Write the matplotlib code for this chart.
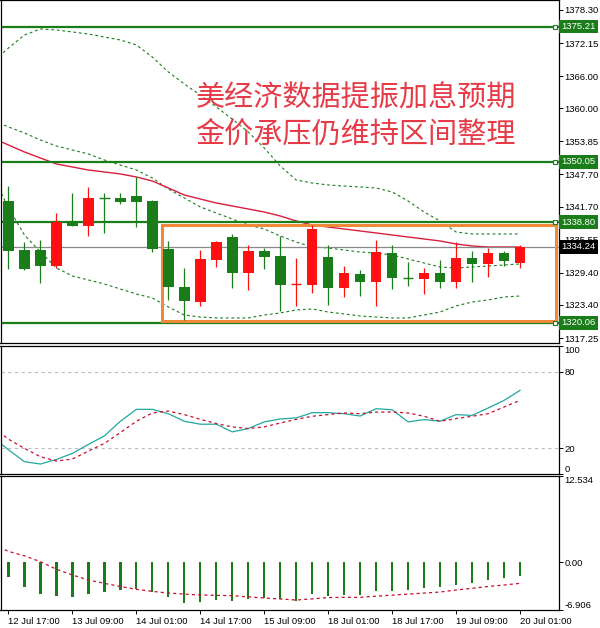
import matplotlib
matplotlib.use("Agg")
import matplotlib.pyplot as plt
from matplotlib.patches import Rectangle
import numpy as np

plt.rcParams['font.family'] = ['Liberation Sans', 'DejaVu Sans']

# H4 gold candles
opens = [1342.75, 1333.63, 1333.63, 1330.71, 1338.90, 1338.16, 1343.30, 1343.25, 1343.63, 1342.75,
         1333.82, 1326.69, 1324.01, 1331.77, 1335.99, 1329.30, 1333.45, 1332.52, 1327.28, 1327.12,
         1332.27, 1326.62, 1329.17, 1327.73, 1333.02, 1328.50, 1328.24, 1329.30, 1327.73, 1332.09,
         1331.03, 1333.13, 1331.27]
highs = [1345.54, 1335.18, 1335.49, 1340.46, 1344.30, 1345.41, 1344.19, 1344.19, 1347.28, 1342.94,
         1335.36, 1330.23, 1333.63, 1335.31, 1336.61, 1334.56, 1334.06, 1336.24, 1332.09, 1338.28,
         1334.56, 1330.65, 1329.91, 1335.49, 1334.56, 1331.46, 1330.23, 1331.77, 1335.06, 1333.45,
         1334.06, 1333.50, 1334.56]
lows = [1330.15, 1330.00, 1327.43, 1330.23, 1338.10, 1336.29, 1336.74, 1342.19, 1337.97, 1333.32,
        1324.33, 1320.60, 1323.27, 1330.52, 1326.62, 1326.19, 1330.10, 1322.34, 1323.27, 1325.57,
        1323.40, 1324.94, 1325.07, 1323.27, 1326.32, 1326.93, 1325.39, 1326.62, 1326.62, 1327.73,
        1328.66, 1330.65, 1330.34]
closes = [1333.50, 1330.04, 1330.71, 1338.79, 1338.16, 1343.25, 1343.22, 1342.51, 1342.62, 1333.82,
          1326.80, 1324.20, 1331.96, 1335.12, 1329.30, 1333.45, 1332.39, 1327.12, 1327.33, 1337.54,
          1326.62, 1329.41, 1327.73, 1333.21, 1328.48, 1328.45, 1329.30, 1327.73, 1332.09, 1331.03,
          1333.13, 1331.64, 1334.24]

# indicator lines start one bar before the first visible candle
ma_line = [1354.48, 1353.17, 1351.87, 1350.75, 1349.64, 1349.08, 1348.52, 1348.15, 1347.78, 1347.22,
           1346.47, 1345.17, 1343.87, 1343.12, 1342.38, 1341.82, 1341.26, 1340.70, 1339.96, 1339.03,
           1338.28, 1337.91, 1337.54, 1337.17, 1336.80, 1336.42, 1336.05, 1335.68, 1335.31, 1334.75,
           1334.38, 1334.19, 1334.19, 1334.19]
bb_upper = [1368.62, 1371.23, 1373.65, 1374.76, 1374.58, 1374.21, 1373.83, 1373.27, 1372.72, 1371.79,
            1369.55, 1366.76, 1364.53, 1362.48, 1360.25, 1358.01, 1355.59, 1352.62, 1349.27, 1346.66,
            1346.10, 1345.73, 1345.54, 1345.36, 1345.17, 1344.43, 1342.75, 1340.70, 1339.03, 1336.98,
            1336.61, 1336.61, 1336.61, 1336.61]
bb_mid = [1357.83, 1356.52, 1355.41, 1354.10, 1352.99, 1352.24, 1351.50, 1350.38, 1349.45, 1348.52,
          1347.03, 1344.99, 1343.31, 1341.64, 1340.52, 1339.40, 1338.28, 1337.54, 1336.24, 1335.12,
          1334.19, 1334.00, 1333.63, 1333.26, 1333.07, 1332.70, 1331.96, 1331.21, 1330.47, 1330.28,
          1330.47, 1330.65, 1330.84, 1331.03]
bb_lower = [1347.59, 1341.45, 1336.42, 1333.26, 1330.28, 1328.79, 1328.05, 1327.30, 1326.37, 1325.44,
            1324.70, 1323.02, 1321.53, 1321.16, 1320.98, 1320.98, 1320.98, 1321.53, 1321.91, 1322.47,
            1322.65, 1322.09, 1321.72, 1321.35, 1321.16, 1320.98, 1320.98, 1321.53, 1322.09, 1323.21,
            1323.95, 1324.33, 1324.88, 1325.07]

stoch_k = [29.0, 18.9, 9.6, 7.8, 11.4, 16.1, 23.1, 29.8, 41.2, 50.5, 50.5, 47.1, 41.2, 38.9, 38.9,
           32.9, 35.5, 40.7, 43.0, 43.8, 47.9, 47.9, 47.1, 45.3, 51.0, 50.2, 40.7, 42.5, 41.2, 46.4,
           45.8, 51.5, 57.5, 65.3]
stoch_d = [36.8, 27.2, 20.0, 13.5, 10.1, 11.7, 17.9, 23.9, 32.4, 41.2, 47.7, 49.2, 46.4, 42.7, 39.4,
           36.8, 35.5, 36.8, 39.8, 42.7, 45.1, 46.4, 47.7, 47.1, 48.4, 48.4, 47.7, 45.1, 41.2, 43.3,
           45.1, 47.1, 52.3, 57.5]

macd_hist = [-2.07, -3.62, -4.63, -4.83, -4.98, -4.63, -4.34, -4.01, -3.86, -4.25, -5.07, -5.94,
             -5.79, -5.46, -5.65, -5.36, -5.12, -5.31, -5.60, -4.59, -4.88, -4.73, -4.73, -4.10,
             -4.10, -4.01, -3.76, -3.62, -3.28, -2.95, -2.55, -2.31, -1.97]
macd_signal = [2.6, 1.6, 0.95, 0.1, -1.0, -1.83, -2.55, -3.04, -3.5, -3.9, -4.2, -4.45, -4.6, -4.73,
               -4.78, -4.83, -5.0, -5.17, -5.3, -5.46, -5.3, -5.1, -5.07, -5.07, -4.9, -4.75, -4.6,
               -4.45, -4.3, -4.0, -3.76, -3.5, -3.28, -3.04]

time_labels = ["12 Jul 17:00", "13 Jul 09:00", "14 Jul 01:00", "14 Jul 17:00", "15 Jul 09:00",
               "18 Jul 01:00", "18 Jul 17:00", "19 Jul 09:00", "20 Jul 01:00"]
price_ticks = [1378.30, 1372.15, 1366.00, 1360.00, 1353.85, 1347.70, 1341.70, 1335.55,
               1329.40, 1323.40, 1317.25]
levels = [1375.21, 1350.05, 1338.80, 1320.06]
last_price = 1334.24
box_range = (1320.50, 1338.25)   # orange consolidation box
title_lines = ["美经济数据提振加息预期", "金价承压仍维持区间整理"]

GREEN = '#1a7d1a'
RED = '#ff1010'
CJK = ['Noto Sans CJK SC', 'DejaVu Sans']
FS = 6.8

n = len(opens)
x = np.arange(n)
x_ind = np.arange(-1, n)

W, H = 600, 628
def rect(l, t, r, b):
    return [l / W, 1 - b / H, (r - l) / W, (b - t) / H]

fig = plt.figure(figsize=(6, 6.28), dpi=100)
ax = fig.add_axes(rect(0.5, 0, 559, 343))
ax2 = fig.add_axes(rect(0.5, 346, 559, 474))
ax3 = fig.add_axes(rect(0.5, 476, 559, 610))

for a in (ax, ax2, ax3):
    a.set_xlim(-0.5, 34.44)
    for s in a.spines.values():
        s.set_linewidth(0.9)
        s.set_color('black')
    a.yaxis.tick_right()
    a.tick_params(axis='y', length=3, width=0.7, labelsize=FS, pad=0.8, direction='out')

# ---- main price panel ----
ax.set_ylim(1316.32, 1380.16)
ax.set_xticks([])
ax.set_yticks(price_ticks)
ax.set_yticklabels([f'{v:.2f}' for v in price_ticks])

ax.plot(x_ind, bb_upper, color=GREEN, lw=0.8, ls=(0, (2.5, 2.5)), zorder=2)
ax.plot(x_ind, bb_mid, color=GREEN, lw=0.8, ls=(0, (2.5, 2.5)), zorder=2)
ax.plot(x_ind, bb_lower, color=GREEN, lw=0.8, ls=(0, (2.5, 2.5)), zorder=2)
ax.plot(x_ind, ma_line, color='#d81e3c', lw=1.0, zorder=2)

for lv in levels:
    ax.axhline(lv, color=GREEN, lw=1.6, zorder=2)
    ax.plot(34.2, lv, marker='s', ms=3, mfc='white', mec=GREEN, mew=0.8, zorder=4)
    ax.text(1.004, lv, f'{lv:.2f}', transform=ax.get_yaxis_transform(), fontsize=FS,
            color='white', va='center', ha='left', zorder=6,
            bbox=dict(boxstyle='square,pad=0.25', fc=GREEN, ec='none'))
ax.axhline(last_price, color='#8a8a8a', lw=0.9, zorder=2)
ax.text(1.004, last_price, f'{last_price:.2f}', transform=ax.get_yaxis_transform(), fontsize=FS,
        color='white', va='center', ha='left', zorder=6,
        bbox=dict(boxstyle='square,pad=0.25', fc='black', ec='none'))

ax.add_patch(Rectangle((9.62, box_range[0]), 34.25 - 9.62, box_range[1] - box_range[0],
                       fill=False, ec='#ef8a3c', lw=2.2, zorder=3))

o = np.array(opens)
c = np.array(closes)
cols = [RED if cc > oo else GREEN for oo, cc in zip(o, c)]
ax.vlines(x, lows, highs, colors=cols, lw=0.9, zorder=4)
body = np.abs(c - o)
ax.bar(x, body, bottom=np.minimum(o, c), width=0.66, color=cols, lw=0, zorder=5)
for xi, oo, cc, col in zip(x, o, c, cols):
    if abs(cc - oo) < 0.2:
        ax.hlines((oo + cc) / 2, xi - 0.33, xi + 0.33, colors=col, lw=1.0, zorder=5)

ax.text(11.7, 1361.9, title_lines[0], fontsize=21, color='#e63c48', family=CJK,
        fontweight='light', va='center', ha='left', zorder=7)
ax.text(11.7, 1355.0, title_lines[1], fontsize=21, color='#e63c48', family=CJK,
        fontweight='light', va='center', ha='left', zorder=7)

# ---- stochastic panel ----
ax2.set_ylim(0, 100)
ax2.set_xticks([])
ax2.set_yticks([0, 20, 80, 100])
ax2.set_yticklabels(['0', '20', '80', '100'])
for lv in (20, 80):
    ax2.axhline(lv, color='#bdbdbd', lw=0.8, ls=(0, (3, 3)))
ax2.plot(x_ind, stoch_k, color='#20a8a0', lw=0.9)
ax2.plot(x_ind, stoch_d, color='#c8102e', lw=0.9, ls=(0, (2.5, 2.5)))
t2 = ax2.yaxis.get_major_ticks()
t2[0].label2.set_va('bottom')
t2[3].label2.set_va('top')

# ---- MACD panel ----
ax3.set_ylim(-6.906, 12.534)
ax3.set_yticks([-6.906, 0, 12.534])
ax3.set_yticklabels(['-6.906', '0.00', '12.534'])
ax3.bar(x, macd_hist, width=0.14, color=GREEN, lw=0)
ax3.plot(x_ind, macd_signal, color='#c8102e', lw=0.9, ls=(0, (2.5, 2.5)))
t3 = ax3.yaxis.get_major_ticks()
t3[0].label2.set_va('bottom')
t3[2].label2.set_va('top')

ax3.set_xticks(np.arange(0, n, 4))
ax3.set_xticklabels(time_labels)
ax3.tick_params(axis='x', length=3, width=0.7, labelsize=FS, pad=2, direction='out')
for lbl in ax3.get_xticklabels():
    lbl.set_ha('left')

fig.savefig('out.png', dpi=100)
